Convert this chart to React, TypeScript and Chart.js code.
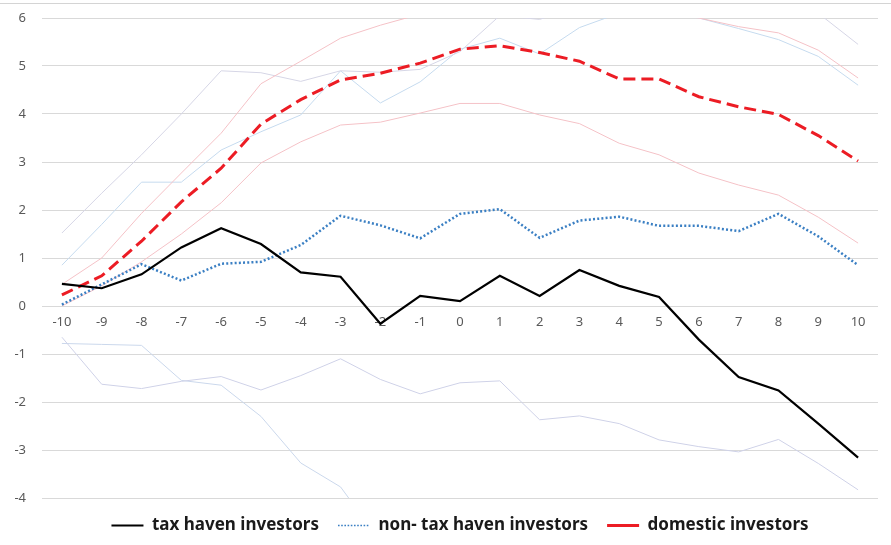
import React, { useEffect, useRef } from "react";
import { Chart, registerables } from "chart.js";

Chart.register(...registerables);

// Event time (days relative to the event)
const eventDays = ["-10", "-9", "-8", "-7", "-6", "-5", "-4", "-3", "-2", "-1", "0", "1", "2", "3", "4", "5", "6", "7", "8", "9", "10"];

// Main estimates
const taxHaven = [0.46, 0.37, 0.66, 1.22, 1.62, 1.29, 0.7, 0.61, -0.37, 0.21, 0.1, 0.63, 0.21, 0.75, 0.42, 0.19, -0.7, -1.48, -1.76, -2.45, -3.16];
const nonTaxHaven = [0.03, 0.45, 0.87, 0.53, 0.88, 0.92, 1.27, 1.88, 1.68, 1.41, 1.92, 2.02, 1.42, 1.78, 1.86, 1.67, 1.67, 1.56, 1.92, 1.45, 0.85];
const domestic = [0.23, 0.63, 1.35, 2.17, 2.87, 3.79, 4.3, 4.71, 4.85, 5.06, 5.35, 5.42, 5.28, 5.1, 4.73, 4.73, 4.36, 4.15, 3.99, 3.55, 3.02];

// Confidence bounds (thin, light lines)
const domesticUpper = [0.45, 1.0, 1.93, 2.77, 3.6, 4.63, 5.1, 5.58, 5.85, 6.08, 6.35, 6.45, 6.35, 6.3, 6.2, 6.15, 6.0, 5.82, 5.69, 5.33, 4.75];
const domesticLower = [0.0, 0.42, 0.92, 1.5, 2.15, 2.98, 3.42, 3.77, 3.83, 4.02, 4.22, 4.22, 3.98, 3.8, 3.39, 3.15, 2.77, 2.52, 2.31, 1.85, 1.31];
const taxHavenUpper = [1.52, 2.35, 3.15, 4.0, 4.9, 4.86, 4.68, 4.9, 4.87, 4.93, 5.3, 6.05, 5.97, 6.25, 6.4, 6.4, 6.35, 6.3, 6.25, 6.1, 5.45];
const nonTaxHavenUpper = [0.85, 1.7, 2.58, 2.58, 3.25, 3.63, 3.98, 4.9, 4.23, 4.67, 5.35, 5.58, 5.25, 5.8, 6.1, 6.15, 6.0, 5.78, 5.55, 5.2, 4.6];
const taxHavenLower = [-0.65, -1.63, -1.72, -1.57, -1.47, -1.75, -1.45, -1.1, -1.53, -1.83, -1.6, -1.56, -2.37, -2.29, -2.45, -2.79, -2.93, -3.04, -2.78, -3.28, -3.83];
const nonTaxHavenLower = [-0.78, -0.8, -0.82, -1.55, -1.65, -2.3, -3.27, -3.77, -4.9, null, null, null, null, null, null, null, null, null, null, null, null];

const yTicks = { min: -4, max: 6, step: 1 };

const thin = (label: string, data: (number | null)[], color: string) => ({
  label,
  data,
  borderColor: color,
  backgroundColor: color,
  borderWidth: 1,
  pointRadius: 0,
  fill: false,
  tension: 0,
  spanGaps: false,
});

export default function App() {
  const canvasRef = useRef<HTMLCanvasElement | null>(null);

  useEffect(() => {
    if (!canvasRef.current) return;
    const chart = new Chart(canvasRef.current, {
      type: "line",
      data: {
        labels: eventDays,
        datasets: [
          {
            label: "tax haven investors",
            data: taxHaven,
            borderColor: "#000000",
            backgroundColor: "#000000",
            borderWidth: 2.2,
            pointRadius: 0,
            tension: 0,
          },
          {
            label: "non- tax haven investors",
            data: nonTaxHaven,
            borderColor: "#3a7fc3",
            backgroundColor: "#3a7fc3",
            borderWidth: 2.5,
            borderDash: [2, 2.2],
            pointRadius: 0,
            tension: 0,
          },
          {
            label: "domestic investors",
            data: domestic,
            borderColor: "#ec1c24",
            backgroundColor: "#ec1c24",
            borderWidth: 3,
            borderDash: [12, 6],
            pointRadius: 0,
            tension: 0,
          },
          thin("domestic upper", domesticUpper, "#f5c2c7"),
          thin("domestic lower", domesticLower, "#f5c2c7"),
          thin("tax haven upper", taxHavenUpper, "#d6d6e6"),
          thin("non- tax haven upper", nonTaxHavenUpper, "#c6dbef"),
          thin("tax haven lower", taxHavenLower, "#cfd2e8"),
          thin("non- tax haven lower", nonTaxHavenLower, "#cbd8ec"),
        ],
      },
      options: {
        responsive: false,
        animation: false,
        layout: { padding: { left: 0, right: 13, top: 18, bottom: 1 } },
        plugins: {
          tooltip: { enabled: false },
          legend: {
            position: "bottom",
            fullSize: false,
            labels: {
              filter: (item) => (item.datasetIndex ?? 0) < 3,
              generateLabels: (c) =>
                Chart.defaults.plugins.legend.labels.generateLabels(c).map((item) =>
                  item.datasetIndex === 1 ? { ...item, lineWidth: 1.6, lineDash: [1.6, 1.6] } : item
                ),
              usePointStyle: true,
              pointStyle: "line",
              pointStyleWidth: 32,
              padding: 19,
              color: "#1a1a1a",
              font: { family: "'Noto Sans', sans-serif", size: 17, weight: "bold" },
            },
          },
        },
        scales: {
          x: {
            position: { y: 0 } as any,
            offset: true,
            afterFit: (scale) => {
              scale.height = 0;
            },
            grid: { display: false, drawTicks: false },
            border: { display: false },
            ticks: {
              color: "#595959",
              padding: 8,
              maxRotation: 0,
              autoSkip: false,
              font: { family: "'Noto Sans', sans-serif", size: 13 },
            },
          },
          y: {
            min: yTicks.min,
            max: yTicks.max,
            afterFit: (scale) => {
              scale.width = 42;
            },
            grid: {
              color: "#d9d9d9",
              lineWidth: 1,
              drawTicks: true,
              tickLength: 10,
              tickColor: "rgba(0,0,0,0)",
            },
            border: { display: false },
            ticks: {
              stepSize: yTicks.step,
              color: "#595959",
              padding: 6,
              font: { family: "'Noto Sans', sans-serif", size: 13 },
            },
          },
        },
      },
    });
    return () => chart.destroy();
  }, []);

  return (
    <div style={{ position: "absolute", left: 0, top: 0, width: 891, height: 545, background: "#ffffff" }}>
      <div style={{ position: "absolute", left: 0, top: 3, width: 891, height: 0, borderTop: "1px solid #d4d4d4" }} />
      <canvas ref={canvasRef} width={891} height={545} style={{ position: "absolute", left: 0, top: 0 }} />
    </div>
  );
}
